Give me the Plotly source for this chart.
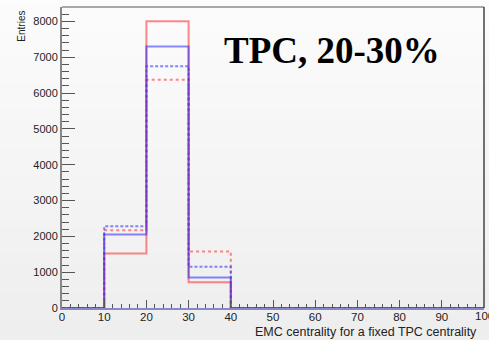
import plotly.graph_objects as go

bin_edges = [0, 10, 20, 30, 40, 50, 60, 70, 80, 90, 100]
red_solid = [0, 1520, 8000, 720, 0, 0, 0, 0, 0, 0]
blue_solid = [0, 2050, 7300, 850, 0, 0, 0, 0, 0, 0]
blue_dashed = [0, 2280, 6750, 1150, 0, 0, 0, 0, 0, 0]
red_dotted = [0, 2170, 6370, 1580, 0, 0, 0, 0, 0, 0]
y_ticks = [0, 1000, 2000, 3000, 4000, 5000, 6000, 7000, 8000]
x_ticks = [0, 10, 20, 30, 40, 50, 60, 70, 80, 90, 100]

RED = "rgba(255,40,40,0.55)"
BLUE = "rgba(40,40,255,0.55)"

def step(vals):
    return bin_edges, list(vals) + [vals[-1]]

fig = go.Figure()
for vals, color, dash in [
    (red_dotted, RED, "dot"),
    (blue_dashed, BLUE, "3px,2px"),
    (red_solid, RED, "solid"),
    (blue_solid, BLUE, "solid"),
]:
    xs, ys = step(vals)
    fig.add_trace(go.Scatter(x=xs, y=ys, mode="lines", line_shape="hv",
                             line=dict(color=color, width=2, dash=dash),
                             showlegend=False, hoverinfo="skip", cliponaxis=False))

shapes = []
n = 30
for i in range(n):
    t = i / (n - 1)
    c = int(round(252 - 16 * t))
    shapes.append(dict(type="rect", xref="paper", yref="paper",
                       x0=-0.2, x1=1.2, y0=1.05 - (i + 1) * 1.3 / n, y1=1.05 - i * 1.3 / n,
                       fillcolor=f"rgb({c},{c},{c})", line=dict(width=0), layer="below"))
shapes.append(dict(type="line", xref="paper", yref="paper", x0=0, x1=1, y0=1, y1=1,
                   line=dict(color="#a8a8a8", width=2)))
shapes.append(dict(type="line", xref="paper", yref="paper", x0=1, x1=1, y0=0, y1=1,
                   line=dict(color="#444444", width=1.5)))

fig.update_layout(
    width=489, height=340,
    margin=dict(l=62, r=5, t=7, b=32),
    paper_bgcolor="#f4f4f4", plot_bgcolor="rgba(0,0,0,0)",
    shapes=shapes,
    font=dict(family="Liberation Sans, Arial, sans-serif", color="#222222"),
    xaxis=dict(range=[0, 100], tickvals=x_ticks, ticks="inside", ticklen=8,
               tickcolor="#555555", tickwidth=1,
               minor=dict(dtick=2, ticks="inside", ticklen=4, tickcolor="#555555"),
               showgrid=False, zeroline=False, showline=True, linecolor="#8888c8", linewidth=2,
               tickfont=dict(size=11.5), ticklabelstandoff=-3),
    yaxis=dict(range=[0, 8400], tickvals=y_ticks, ticks="inside", ticklen=13,
               tickcolor="#555555", tickwidth=1,
               minor=dict(dtick=200, ticks="inside", ticklen=7, tickcolor="#555555"),
               showgrid=False, zeroline=False, showline=True, linecolor="#888888", linewidth=2,
               tickfont=dict(size=11)),
    annotations=[
        dict(text="<b>TPC, 20-30%</b>", xref="paper", yref="paper",
             x=0.38, y=0.855, xanchor="left", yanchor="middle", showarrow=False,
             font=dict(family="Liberation Serif, Times New Roman, serif", size=37, color="black")),
        dict(text="EMC centrality for a fixed TPC centrality", xref="paper", yref="paper",
             x=0.988, y=-0.0805, xanchor="right", yanchor="middle", showarrow=False,
             font=dict(size=12.5, color="#222222")),
        dict(text="Entries", xref="paper", yref="paper", textangle=-90,
             x=-0.098, y=0.995, xanchor="center", yanchor="top", showarrow=False,
             font=dict(size=10, color="#222222")),
        dict(text="100", xref="x", yref="paper", x=100, y=0.0,
             xanchor="center", yanchor="top", showarrow=False,
             font=dict(size=11.5, color="#222222")),
    ],
)
fig.write_html("out.html")
